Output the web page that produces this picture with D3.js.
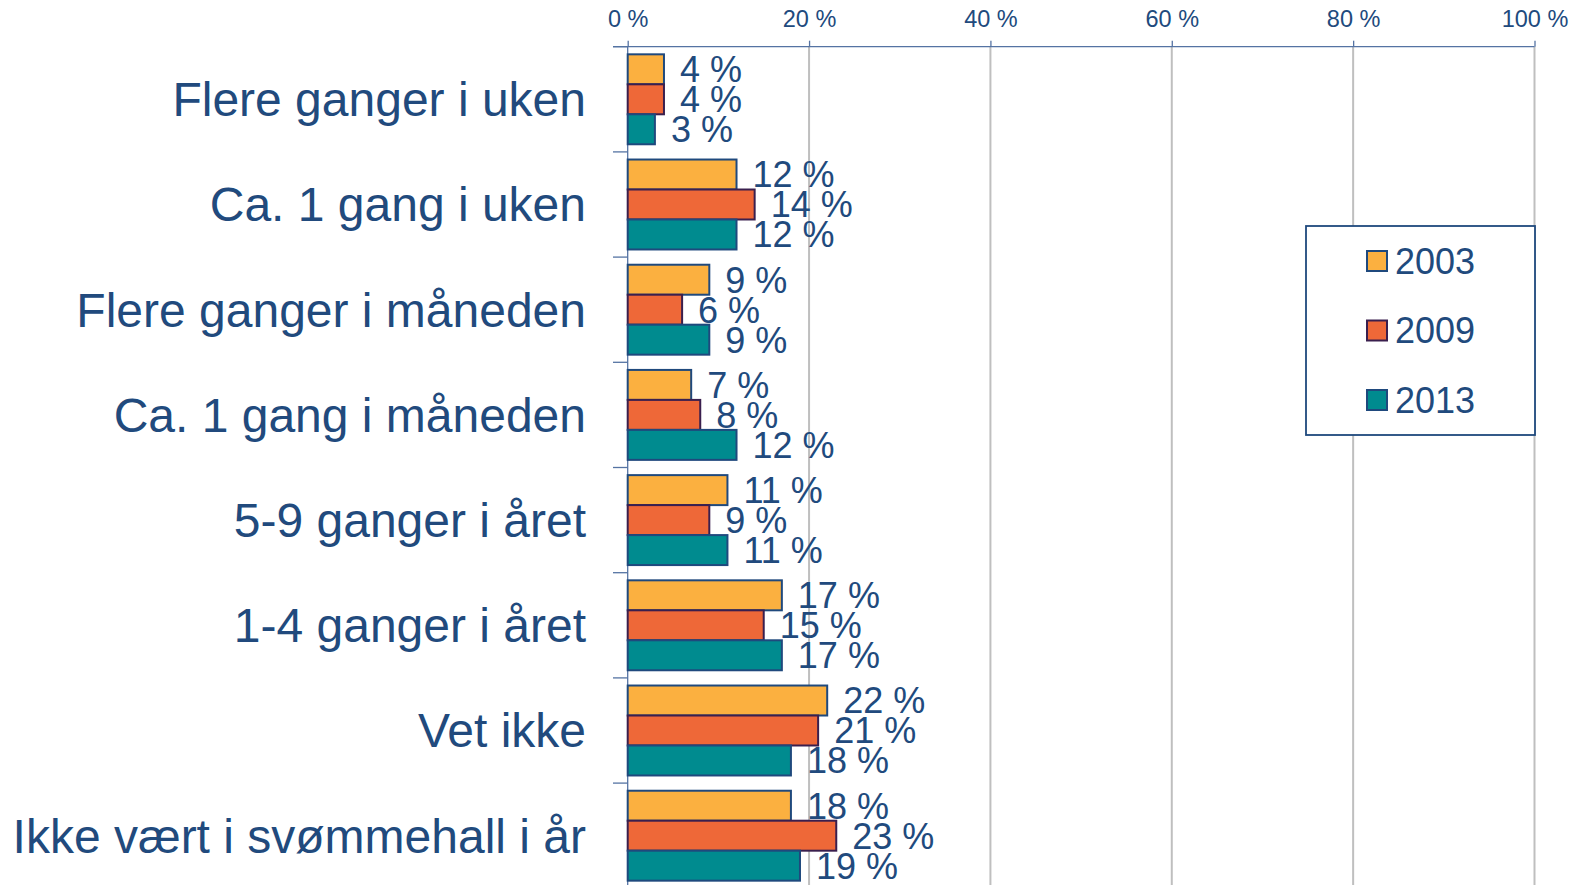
<!DOCTYPE html>
<html>
<head>
<meta charset="utf-8">
<script src="https://cdn.jsdelivr.net/npm/d3@7"></script>
<style>
  html, body { margin: 0; padding: 0; background: #fff; }
  svg { display: block; font-family: "Liberation Sans", Arial, sans-serif; }
</style>
</head>
<body>
<svg id="chart" width="1583" height="885"></svg>
<script>
const categories = [
  "Flere ganger i uken",
  "Ca. 1 gang i uken",
  "Flere ganger i måneden",
  "Ca. 1 gang i måneden",
  "5-9 ganger i året",
  "1-4 ganger i året",
  "Vet ikke",
  "Ikke vært i svømmehall i år"
];
const years = ["2003", "2009", "2013"];
const values2003 = [4, 12, 9, 7, 11, 17, 22, 18];
const values2009 = [4, 14, 6, 8, 9, 15, 21, 23];
const values2013 = [3, 12, 9, 12, 11, 17, 18, 19];
const tickValues = [0, 20, 40, 60, 80, 100];

const seriesValues = [values2003, values2009, values2013];
const fills = ["#FBB040", "#EE6838", "#008B8F"];
const strokes = ["#1F497D", "#3A1F4E", "#1F497D"];
const textColor = "#214A7D";

const svg = d3.select("#chart");

const x = d3.scaleLinear().domain([0, 100]).range([627.7, 1534.5]);
const y = d3.scaleBand().domain(categories).range([46.7, 888.3])
  .paddingInner(0.145).paddingOuter(0.0725);
const yInner = d3.scaleBand().domain(years).range([0, y.bandwidth()]);

const plotTop = 46.7, plotBottom = 885;

// gridlines
svg.append("g").selectAll("line")
  .data(tickValues.filter(d => d > 0))
  .join("line")
  .attr("x1", d => x(d)).attr("x2", d => x(d))
  .attr("y1", plotTop).attr("y2", plotBottom)
  .attr("stroke", "#BFBFBF").attr("stroke-width", 2);

// top value axis
const xAxis = d3.axisTop(x).tickValues(tickValues).tickSize(6).tickPadding(6)
  .tickFormat(d => d + " %");
const gx = svg.append("g").attr("transform", `translate(0,${plotTop})`).call(xAxis);
gx.select(".domain").attr("stroke", "#5573A3").attr("stroke-width", 1.3)
  .attr("d", `M613,0H${x(100)}`);
gx.selectAll(".tick line").attr("stroke", "#5573A3").attr("stroke-width", 1.3);
gx.selectAll(".tick text").attr("fill", textColor).attr("font-size", 23.5)
  .attr("font-family", "Liberation Sans, Arial, sans-serif").attr("dy", "0")
  .attr("y", -20);

// category axis line and ticks
svg.append("line")
  .attr("x1", x(0)).attr("x2", x(0)).attr("y1", plotTop).attr("y2", plotBottom)
  .attr("stroke", "#5573A3").attr("stroke-width", 1.3);
const boundaries = d3.range(categories.length + 1).map(i => plotTop + i * y.step());
svg.append("g").selectAll("line")
  .data(boundaries)
  .join("line")
  .attr("x1", 613).attr("x2", x(0))
  .attr("y1", d => d).attr("y2", d => d)
  .attr("stroke", "#5573A3").attr("stroke-width", 1.3);

// category labels
svg.append("g").selectAll("text")
  .data(categories)
  .join("text")
  .attr("x", 586)
  .attr("y", d => y(d) + y.bandwidth() / 2)
  .attr("dy", "0.35em")
  .attr("text-anchor", "end")
  .attr("font-size", 48)
  .attr("fill", textColor)
  .text(d => d);

// bars
const groups = svg.append("g").selectAll("g")
  .data(categories)
  .join("g")
  .attr("transform", d => `translate(0,${y(d)})`);

years.forEach((yr, si) => {
  groups.append("rect")
    .attr("x", x(0))
    .attr("y", yInner(yr))
    .attr("width", d => x(seriesValues[si][categories.indexOf(d)]) - x(0))
    .attr("height", yInner.bandwidth())
    .attr("fill", fills[si])
    .attr("stroke", strokes[si])
    .attr("stroke-width", 2);
});

// data labels
years.forEach((yr, si) => {
  groups.append("text")
    .attr("x", d => x(seriesValues[si][categories.indexOf(d)]) + 16)
    .attr("y", yInner(yr) + yInner.bandwidth() / 2)
    .attr("dy", "0.36em")
    .attr("font-size", 36)
    .attr("fill", textColor)
    .text(d => seriesValues[si][categories.indexOf(d)] + " %");
});

// legend
const legend = svg.append("g");
legend.append("rect")
  .attr("x", 1306).attr("y", 226).attr("width", 229).attr("height", 209)
  .attr("fill", "#fff").attr("stroke", "#1F497D").attr("stroke-width", 1.8);
years.forEach((yr, si) => {
  const cy = 261 + si * 69.5;
  legend.append("rect")
    .attr("x", 1367).attr("y", cy - 10).attr("width", 20).attr("height", 20)
    .attr("fill", fills[si]).attr("stroke", strokes[si]).attr("stroke-width", 2);
  legend.append("text")
    .attr("x", 1395).attr("y", cy).attr("dy", "0.36em")
    .attr("font-size", 36).attr("fill", textColor)
    .text(yr);
});
</script>
</body>
</html>
